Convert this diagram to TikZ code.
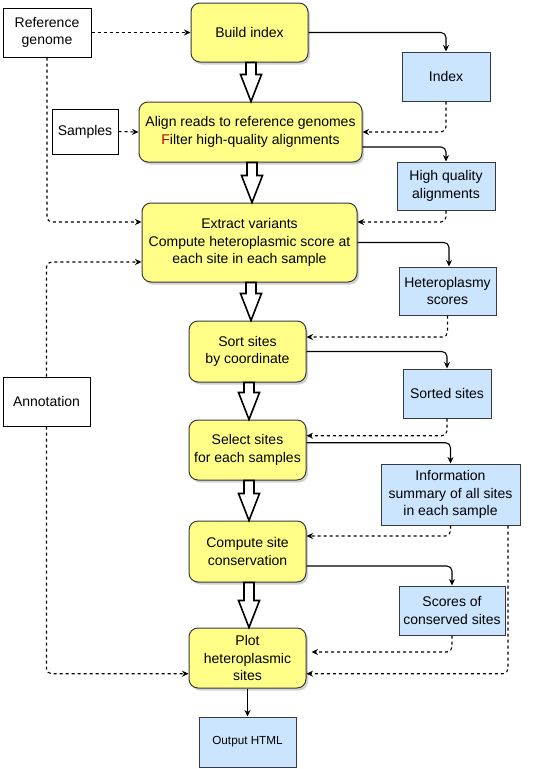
\documentclass[tikz,border=0pt]{standalone}
\usepackage{fontspec}
\setmainfont{Liberation Sans}
\usepackage{tikz}
\usetikzlibrary{arrows.meta}
\usetikzlibrary{calc}
\usetikzlibrary{shadows}

\definecolor{procyellow}{HTML}{FFFF88}
\definecolor{datablue}{HTML}{CCE5FF}
\definecolor{boxgray}{HTML}{36393D}

\newcommand{\bigarrow}[2]{%
    \draw [hollow_arrow_style] let \p1=(#1.south), \p2=(#2.north) in
        (\x1-3.5pt,\y1) -- (\x1+6.5pt,\y1) -- (\x1+6.5pt,\y2+27pt) -- (\x1+12pt,\y2+27pt)
        -- (\x1+1.5pt,\y2) -- (\x1-9pt,\y2+27pt) -- (\x1-3.5pt,\y2+27pt) -- cycle;}

\begin{document}
\begin{tikzpicture}[x=1pt, y=-1pt, font=\fontsize{14}{17.5}\selectfont,
        process_style/.style={draw=boxgray, line width=1pt, fill=procyellow, rounded corners=9pt, align=center, inner sep=0pt,
            drop shadow={shadow xshift=2pt, shadow yshift=-2.5pt, fill=black!30, opacity=0.6}},
        input_style/.style={draw=black, line width=1pt, fill=white, align=center, inner sep=0pt},
        data_style/.style={draw=boxgray, line width=1pt, fill=datablue, align=center, inner sep=0pt},
        edge_style/.style={draw=black, line width=1.1pt, rounded corners=5pt, -{Stealth[length=6.5pt,width=6pt]}},
        dashed_edge_style/.style={edge_style, dash pattern=on 3pt off 3pt},
        hollow_arrow_style/.style={draw=black, line width=1.6pt, fill=white, line join=miter}]

        \useasboundingbox (0,0) rectangle (537,769);

        \node [input_style, minimum width=88, minimum height=49](refgenome) at (47,32.5) {Reference\\genome};

        \node [process_style, minimum width=117, minimum height=59](build) at (249.5,32.5) {Build index};

        \node [data_style, minimum width=88, minimum height=49](index) at (446,76.5) {Index};

        \node [input_style, minimum width=66, minimum height=45](samples) at (85,131.5) {Samples};

        \node [process_style, minimum width=223, minimum height=60](align) at (250.5,132) {Align reads to reference genomes\\\textcolor{red!70!black}{F}ilter high-quality alignments};

        \node [data_style, minimum width=98, minimum height=48](hq) at (446,186) {High quality\\alignments};

        \node [process_style, minimum width=215, minimum height=79](extract) at (249.5,242.5) {Extract variants\\Compute heteroplasmic score at\\each site in each sample};

        \node [data_style, minimum width=97, minimum height=48](hetero) at (447.5,291) {Heteroplasmy\\scores};

        \node [process_style, minimum width=117, minimum height=61](sort) at (247.5,351.5) {Sort sites\\by coordinate};

        \node [input_style, minimum width=87, minimum height=49](annotation) at (46.5,401.5) {Annotation};

        \node [data_style, minimum width=88, minimum height=49](sorted) at (447,393.5) {Sorted sites};

        \node [process_style, minimum width=117, minimum height=60](select) at (247.5,450) {Select sites\\for each samples};

        \node [data_style, minimum width=139, minimum height=61](info) at (450.5,494.5) {Information\\summary of all sites\\in each sample};

        \node [process_style, minimum width=117, minimum height=61](compute) at (247.5,551.5) {Compute site\\conservation};

        \node [data_style, minimum width=106, minimum height=49](scores) at (452,610.5) {Scores of\\conserved sites};

        \node [process_style, minimum width=117, minimum height=60](plot) at (247.5,658) {Plot\\heteroplasmic\\sites};

        \node [data_style, minimum width=97, minimum height=50, font=\fontsize{11.7}{14}\selectfont](output) at (247.5,742) {Output HTML};

        \bigarrow{build}{align}
        \bigarrow{align}{extract}
        \bigarrow{extract}{sort}
        \bigarrow{sort}{select}
        \bigarrow{select}{compute}
        \bigarrow{compute}{plot}

        \draw [dashed_edge_style] (refgenome.east) -- (build.west);

        \draw [dashed_edge_style] (refgenome.south) |- ([yshift=20.5pt]extract.west);

        \draw [edge_style] (build.east) -| (index.north);

        \draw [dashed_edge_style] (index.south) |- (align.east);

        \draw [dashed_edge_style] (samples.east) -- (align.west);

        \draw [edge_style] ([yshift=-15pt]align.east) -| (hq.north);

        \draw [dashed_edge_style] (hq.south) |- ([yshift=20.5pt]extract.east);

        \draw [edge_style] (extract.east) -| ([xshift=1.5pt]hetero.north);

        \draw [dashed_edge_style] (hetero.south) |- ([yshift=14.5pt]sort.east);

        \draw [edge_style] (sort.east) -| (sorted.north);

        \draw [dashed_edge_style] (sorted.south) |- ([yshift=14.3pt]select.east);

        \draw [edge_style] ([yshift=7.3pt]select.east) -| (info.north);

        \draw [dashed_edge_style] (info.south) |- ([yshift=15.5pt]compute.east);

        \draw [edge_style] ([yshift=-14.5pt]compute.east) -| (scores.north);

        \draw [dashed_edge_style] (scores.south) |- ([xshift=5pt,yshift=6pt]plot.east);

        \draw [dashed_edge_style] ([xshift=57.5pt]info.south) |- ([yshift=-15.7pt]plot.east);

        \draw [dashed_edge_style] (annotation.north) |- ([yshift=-19.5pt]extract.west);

        \draw [dashed_edge_style] (annotation.south) |- ([yshift=-15.7pt]plot.west);

        \draw [edge_style] (plot.south) -- (output.north);

\end{tikzpicture}
\end{document}
